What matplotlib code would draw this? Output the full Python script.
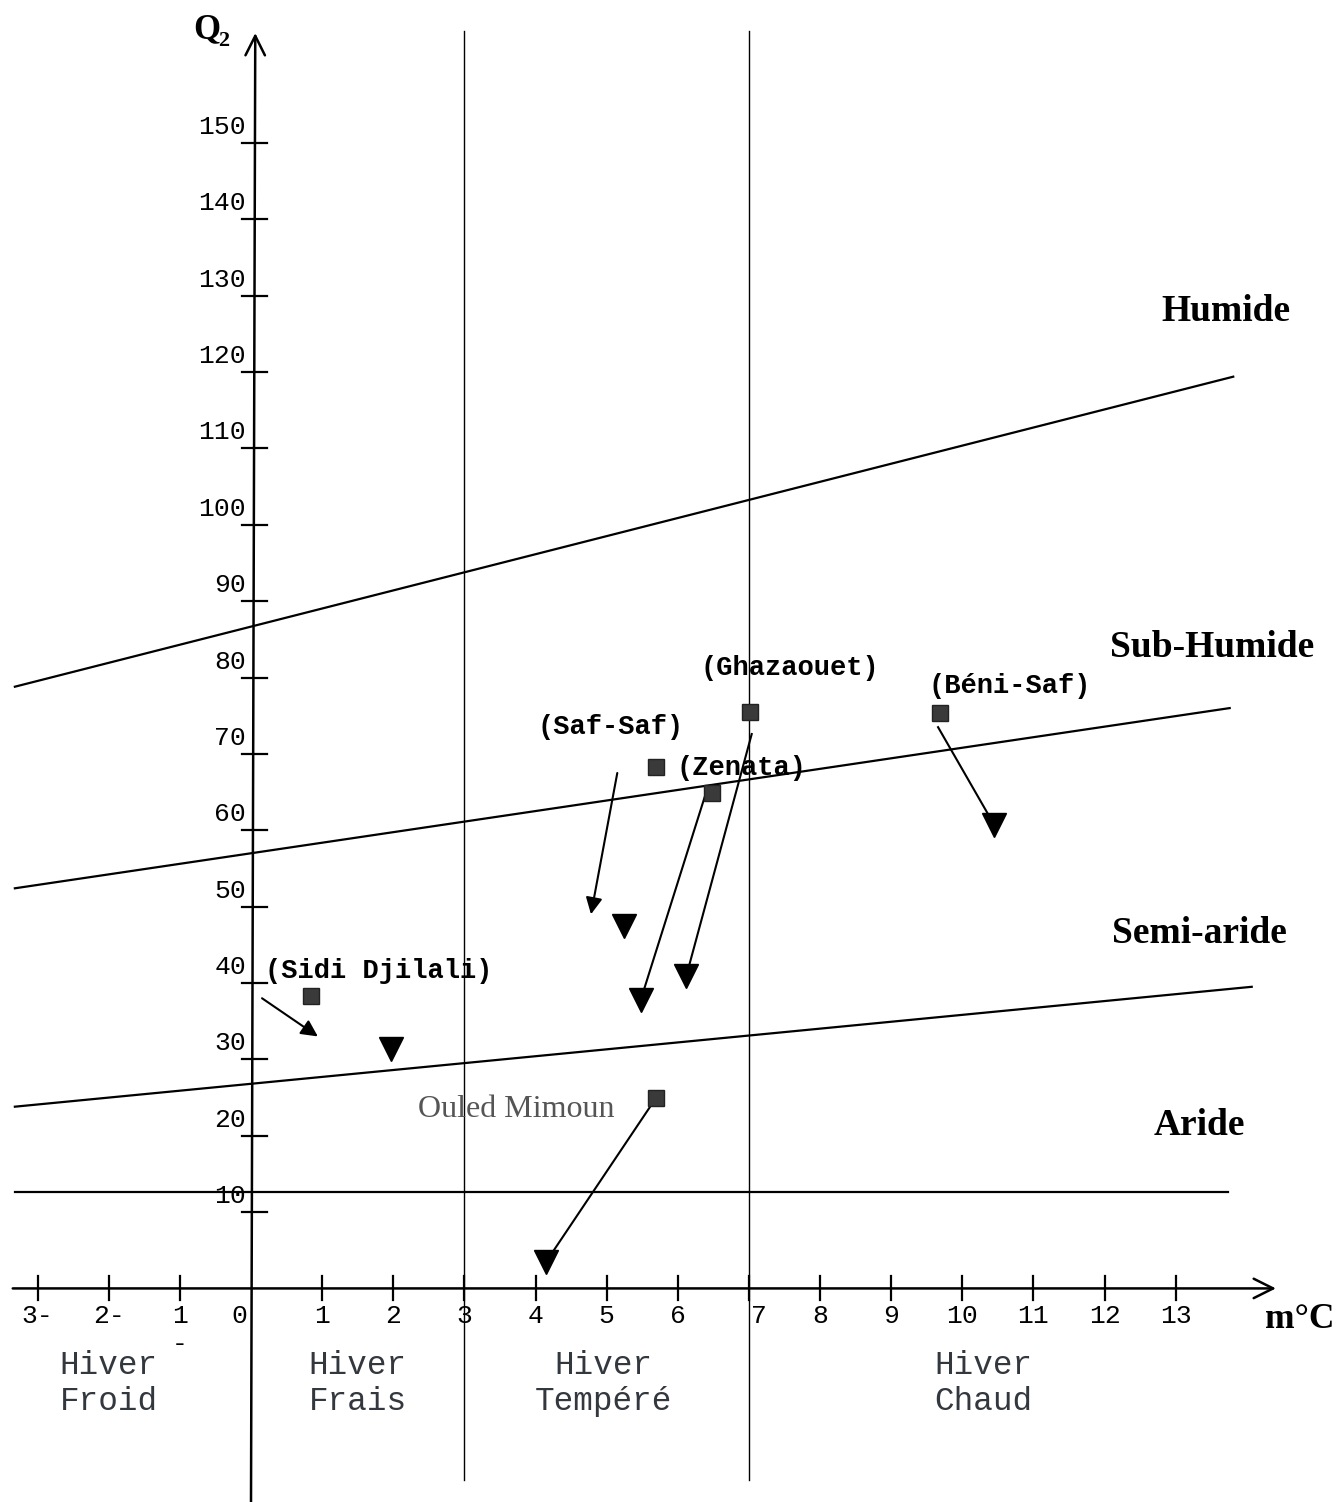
import matplotlib
matplotlib.use('Agg')
import matplotlib.pyplot as plt

# axes graduations
x_ticks = [-3, -2, -1, 0, 1, 2, 3, 4, 5, 6, 7, 8, 9, 10, 11, 12, 13]
x_tick_labels = ['3-', '2-', '1', '0', '1', '2', '3', '4', '5', '6', '7',
                 '8', '9', '10', '11', '12', '13']
y_ticks = [10, 20, 30, 40, 50, 60, 70, 80, 90, 100, 110, 120, 130, 140, 150]

# limites des etages bioclimatiques (extremites des droites)
limit_x0 = [-3.32, -3.32, -3.32, -3.32]
limit_x1 = [13.81, 13.76, 14.07, 13.74]
limit_q0 = [78.8, 52.4, 23.8, 12.6]
limit_q1 = [119.4, 76.0, 39.5, 12.6]

# limites des variantes thermiques
winter_limits = [3, 7]

zones = ['Humide', 'Sub-Humide', 'Semi-aride', 'Aride']
winters = ['Hiver\nFroid', 'Hiver\nFrais', 'Hiver\nTempéré', 'Hiver\nChaud']

# stations : ancienne periode (carres) -> periode recente (triangles)
stations = ['(Sidi Djilali)', '(Saf-Saf)', '(Zenata)', '(Ghazaouet)',
            '(Béni-Saf)', 'Ouled Mimoun']
old_m = [0.84, 5.69, 6.48, 7.02, 9.69, 5.69]
old_q = [38.3, 68.3, 64.9, 75.5, 75.4, 24.9]
new_m = [1.97, 5.24, 5.48, 6.12, 10.45, 4.15]
new_q = [31.3, 47.5, 37.8, 40.9, 60.7, 3.5]

# fleches dessinees sur la figure (debut -> fin)
arrow_m0 = [0.155, 5.15, 6.38, 7.04, 9.66, 5.72]
arrow_q0 = [38.0, 67.5, 64.4, 72.6, 73.5, 25.3]
arrow_m1 = [0.94, 4.78, 5.48, 6.12, 10.45, 4.15]
arrow_q1 = [33.0, 49.0, 37.8, 40.9, 60.7, 3.5]
arrow_head = [True, True, False, False, False, False]

mono = 'Liberation Mono'
serif = 'Liberation Serif'

fig = plt.figure(figsize=(13.39, 15.02), dpi=100)
ax = fig.add_axes([0, 0, 1, 1])
ax.set_xlim(-3.529, 15.297)
ax.set_ylim(-27.97, 168.73)
ax.axis('off')

# axes avec fleches
ax.annotate('', xy=(0.06, 164.4), xytext=(0.0, -28),
            arrowprops=dict(arrowstyle='->', lw=1.8, color='black',
                            mutation_scale=35, shrinkA=0, shrinkB=0))
ax.annotate('', xy=(14.41, 0), xytext=(-3.35, 0),
            arrowprops=dict(arrowstyle='->', lw=1.8, color='black',
                            mutation_scale=35, shrinkA=0, shrinkB=0))

for xv in winter_limits:
    ax.plot([xv, xv], [-25.1, 164.7], color='black', lw=1.0)

for t in y_ticks:
    ax.plot([-0.12, 0.22], [t, t], color='black', lw=1.6)
    ax.text(-0.07, t + 2.1, str(t), family=mono, fontsize=19,
            ha='right', va='center')

for t, lab in zip(x_ticks, x_tick_labels):
    if t != 0:
        ax.plot([t, t], [-1.5, 1.6], color='black', lw=1.6)
    dx = {0: -0.17, 7: 0.14}.get(t, 0)
    ax.text(t + dx, -3.66, lab, family=mono, fontsize=19,
            ha='center', va='center')
ax.text(-1, -7.3, '-', family=mono, fontsize=19, ha='center', va='center')

# droites des etages
for x0, x1, q0, q1 in zip(limit_x0, limit_x1, limit_q0, limit_q1):
    ax.plot([x0, x1], [q0, q1], color='black', lw=1.6)

zone_pos = [(13.71, 128.0), (13.51, 83.9), (13.34, 46.5), (13.34, 21.3)]
for name, (zx, zq) in zip(zones, zone_pos):
    ax.text(zx, zq, name, family=serif, fontweight='bold', fontsize=27,
            ha='center', va='center')

winter_pos = [-2.0, 1.5, 4.95, 10.3]
for name, wx in zip(winters, winter_pos):
    ax.text(wx, -12.5, name, family=mono, fontsize=23.5, color='#33373e',
            ha='center', va='center', linespacing=1.2)

# fleches et symboles des stations
for m0, q0, m1, q1, head in zip(arrow_m0, arrow_q0, arrow_m1, arrow_q1, arrow_head):
    if head:
        ax.annotate('', xy=(m1, q1), xytext=(m0, q0),
                    arrowprops=dict(arrowstyle='-|>', lw=1.5, color='black',
                                    mutation_scale=25, shrinkA=0, shrinkB=0))
    else:
        ax.plot([m0, m1], [q0, q1], color='black', lw=1.5, zorder=3)

ax.plot(old_m, old_q, 's', color='#3a3a3a', markeredgecolor='#222222',
        markersize=11.5, zorder=4, ls='none')
ax.plot(new_m, new_q, 'v', color='black', markersize=17, zorder=4, ls='none')

label_pos = [(0.2, 41.6, 'left'), (5.06, 73.5, 'center'), (5.98, 68.2, 'left'),
             (7.58, 81.3, 'center'), (10.67, 78.9, 'center')]
for name, (lx, lq, ha) in zip(stations[:5], label_pos):
    ax.text(lx, lq, name, family=mono, fontweight='bold', fontsize=19.5,
            ha=ha, va='center')
ax.text(3.73, 23.4, stations[5], family=serif, fontsize=23, color='#555555',
        ha='center', va='center')

# titres des axes
ax.text(-0.62, 164.8, 'Q', family=serif, fontweight='bold', fontsize=25,
        ha='center', va='center')
ax.text(-0.38, 163.4, '2', family=serif, fontweight='bold', fontsize=16,
        ha='center', va='center')
ax.text(14.75, -4.1, 'm°C', family=serif, fontweight='bold', fontsize=25.5,
        ha='center', va='center')

fig.savefig('out.png', dpi=100, facecolor='white')
